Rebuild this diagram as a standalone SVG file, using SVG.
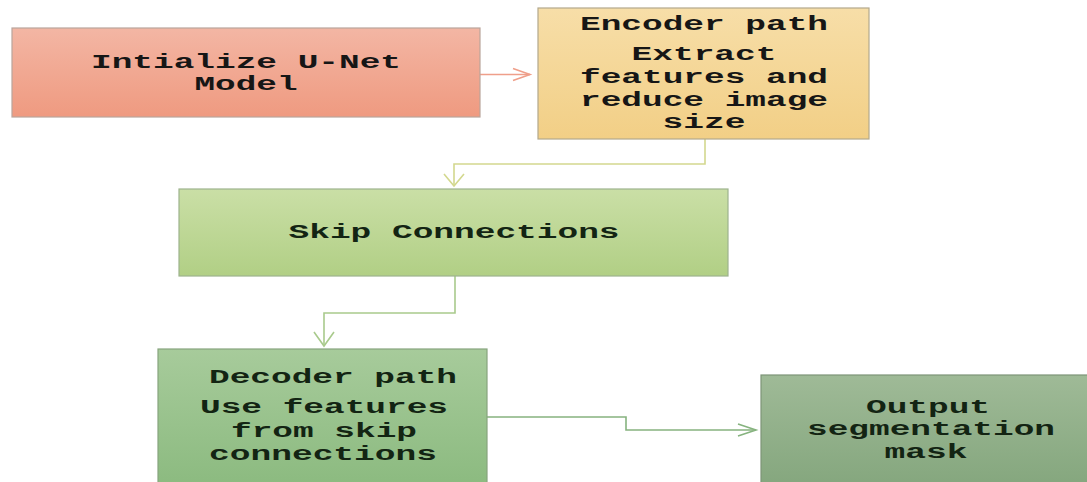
<svg xmlns="http://www.w3.org/2000/svg" width="1087" height="482" viewBox="0 0 1087 482">
<style>
  .box { stroke-width: 1.2; }
  .t { font-family: "Liberation Mono", "Courier New", monospace; font-weight: bold; font-size: 20px; text-anchor: middle; fill: #161616; }
  .tg { fill: #132413; }
  .conn { fill: none; stroke-width: 1.6; }
</style>
<defs>
  <linearGradient id="g1" x1="0" y1="0" x2="0" y2="1"><stop offset="0" stop-color="#f3b6a4"/><stop offset="1" stop-color="#ef9a80"/></linearGradient>
  <linearGradient id="g2" x1="0" y1="0" x2="0" y2="1"><stop offset="0" stop-color="#f7dea8"/><stop offset="1" stop-color="#f2cf86"/></linearGradient>
  <linearGradient id="g3" x1="0" y1="0" x2="0" y2="1"><stop offset="0" stop-color="#cadfa6"/><stop offset="1" stop-color="#b1cf85"/></linearGradient>
  <linearGradient id="g4" x1="0" y1="0" x2="0" y2="1"><stop offset="0" stop-color="#a7cb9b"/><stop offset="1" stop-color="#8bba7f"/></linearGradient>
  <linearGradient id="g5" x1="0" y1="0" x2="0" y2="1"><stop offset="0" stop-color="#9fba97"/><stop offset="1" stop-color="#84a67d"/></linearGradient>
  <marker id="m1" markerUnits="userSpaceOnUse" markerWidth="20" markerHeight="16" refX="17" refY="7" orient="auto" overflow="visible"><path d="M0,1 L17,7 L0,13" fill="none" stroke="#ef9f8a" stroke-width="1.6"/></marker>
  <marker id="m2" markerUnits="userSpaceOnUse" markerWidth="14" markerHeight="24" refX="12" refY="11" orient="auto" overflow="visible"><path d="M0,1 L12,11 L0,21" fill="none" stroke="#d3d88e" stroke-width="1.6"/></marker>
  <marker id="m3" markerUnits="userSpaceOnUse" markerWidth="14" markerHeight="24" refX="14" refY="11" orient="auto" overflow="visible"><path d="M0,1 L14,11 L0,21" fill="none" stroke="#a9ca8c" stroke-width="1.6"/></marker>
  <marker id="m4" markerUnits="userSpaceOnUse" markerWidth="20" markerHeight="16" refX="18" refY="7" orient="auto" overflow="visible"><path d="M0,1 L18,7 L0,13" fill="none" stroke="#86b37f" stroke-width="1.6"/></marker>
</defs>
<rect width="1087" height="482" fill="#ffffff"/>
<g id="connectors">
  <path class="conn" d="M480,74.5 H530" stroke="#ef9f8a" marker-end="url(#m1)"/>
  <path class="conn" d="M705,139 V164 H454 V186" stroke="#d3d88e" marker-end="url(#m2)"/>
  <path class="conn" d="M455,276 V313 H324 V346" stroke="#a9ca8c" marker-end="url(#m3)"/>
  <path class="conn" d="M487,417 H626 V430 H756" stroke="#86b37f" marker-end="url(#m4)"/>
</g>
<g id="init">
  <rect class="box" x="12" y="28" width="468" height="89" fill="url(#g1)" stroke="#b9a59c"/>
  <text class="t" x="246" y="68" textLength="310" lengthAdjust="spacingAndGlyphs">Intialize U-Net</text>
  <text class="t" x="246" y="90" textLength="103" lengthAdjust="spacingAndGlyphs">Model</text>
</g>
<g id="encoder">
  <rect class="box" x="538" y="8" width="331" height="131" fill="url(#g2)" stroke="#b3a88c"/>
  <text class="t" x="704" y="30" textLength="248" lengthAdjust="spacingAndGlyphs">Encoder path</text>
  <text class="t" x="704" y="60" textLength="145" lengthAdjust="spacingAndGlyphs">Extract</text>
  <text class="t" x="704" y="83" textLength="248" lengthAdjust="spacingAndGlyphs">features and</text>
  <text class="t" x="704" y="106" textLength="248" lengthAdjust="spacingAndGlyphs">reduce image</text>
  <text class="t" x="704" y="128" textLength="83" lengthAdjust="spacingAndGlyphs">size</text>
</g>
<g id="skip">
  <rect class="box" x="179" y="189" width="549" height="87" fill="url(#g3)" stroke="#9db38e"/>
  <text class="t tg" x="454" y="238" textLength="331" lengthAdjust="spacingAndGlyphs">Skip Connections</text>
</g>
<g id="decoder">
  <rect class="box" x="158" y="349" width="329" height="140" fill="url(#g4)" stroke="#87a47e"/>
  <text class="t tg" x="333" y="383" textLength="248" lengthAdjust="spacingAndGlyphs">Decoder path</text>
  <text class="t tg" x="324" y="413" textLength="248" lengthAdjust="spacingAndGlyphs">Use features</text>
  <text class="t tg" x="324" y="437" textLength="186" lengthAdjust="spacingAndGlyphs">from skip</text>
  <text class="t tg" x="323" y="460" textLength="228" lengthAdjust="spacingAndGlyphs">connections</text>
</g>
<g id="output">
  <rect class="box" x="761" y="375" width="340" height="114" fill="url(#g5)" stroke="#7d9477"/>
  <text class="t tg" x="928" y="413" textLength="124" lengthAdjust="spacingAndGlyphs">Output</text>
  <text class="t tg" x="931" y="435" textLength="248" lengthAdjust="spacingAndGlyphs">segmentation</text>
  <text class="t tg" x="926" y="458" textLength="83" lengthAdjust="spacingAndGlyphs">mask</text>
</g>
</svg>
